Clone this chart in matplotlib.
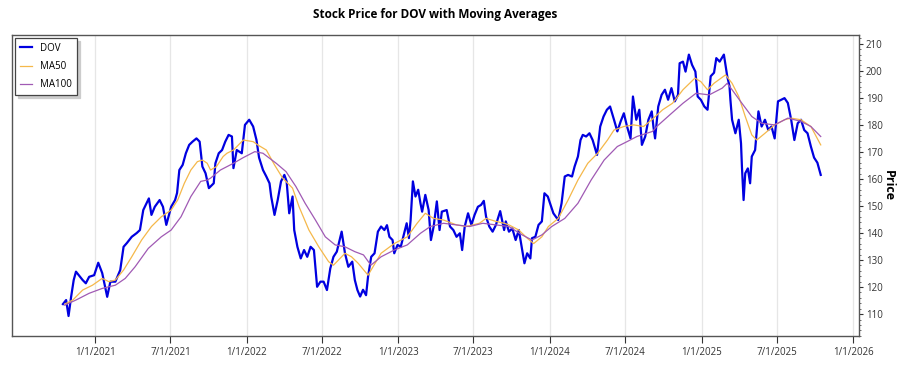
import pandas as pd
import matplotlib
matplotlib.use("Agg")
import matplotlib.pyplot as plt
from matplotlib.ticker import MultipleLocator

# time in years counted from 1/1/2021
price_t = [
    -0.214, -0.193, -0.177, -0.160, -0.143, -0.128, -0.084, -0.063, -0.041, -0.008,
    0.019, 0.045, 0.078, 0.099, 0.132, 0.164, 0.186, 0.208, 0.240, 0.273,
    0.294, 0.316, 0.353, 0.370, 0.392, 0.424, 0.446, 0.468, 0.500, 0.526,
    0.539, 0.554, 0.576, 0.597, 0.619, 0.641, 0.667, 0.688, 0.706, 0.727,
    0.749, 0.781, 0.792, 0.814, 0.836, 0.857, 0.879, 0.901, 0.911, 0.933,
    0.966, 0.987, 1.015, 1.041, 1.063, 1.080, 1.106, 1.128, 1.149, 1.160,
    1.182, 1.203, 1.225, 1.247, 1.262, 1.279, 1.301, 1.312, 1.333, 1.355,
    1.377, 1.398, 1.420, 1.442, 1.463, 1.485, 1.506, 1.528, 1.550, 1.571,
    1.593, 1.625, 1.647, 1.669, 1.695, 1.712, 1.729, 1.747, 1.766, 1.786,
    1.799, 1.820, 1.842, 1.864, 1.885, 1.907, 1.924, 1.940, 1.961, 1.972,
    1.994, 2.015, 2.037, 2.054, 2.069, 2.080, 2.095, 2.112, 2.130, 2.145,
    2.156, 2.177, 2.199, 2.214, 2.232, 2.253, 2.271, 2.286, 2.318, 2.340,
    2.362, 2.383, 2.405, 2.420, 2.437, 2.459, 2.481, 2.502, 2.524, 2.545,
    2.563, 2.578, 2.599, 2.621, 2.643, 2.671, 2.697, 2.708, 2.729, 2.751,
    2.773, 2.794, 2.816, 2.831, 2.849, 2.870, 2.881, 2.903, 2.924, 2.946,
    2.963, 2.985, 3.000, 3.022, 3.054, 3.076, 3.097, 3.119, 3.145, 3.162,
    3.184, 3.201, 3.216, 3.238, 3.260, 3.281, 3.310, 3.331, 3.353, 3.375,
    3.396, 3.422, 3.444, 3.466, 3.487, 3.508, 3.531, 3.547, 3.569, 3.589,
    3.606, 3.628, 3.649, 3.671, 3.682, 3.693, 3.714, 3.736, 3.758, 3.779,
    3.801, 3.823, 3.844, 3.855, 3.877, 3.894, 3.916, 3.937, 3.959, 3.974,
    3.995, 4.018, 4.039, 4.060, 4.082, 4.097, 4.119, 4.147, 4.169, 4.184,
    4.190, 4.201, 4.223, 4.245, 4.260, 4.266, 4.277, 4.288, 4.305, 4.320,
    4.331, 4.353, 4.375, 4.396, 4.418, 4.440, 4.461, 4.482, 4.504, 4.526,
    4.547, 4.569, 4.591, 4.612, 4.634, 4.656, 4.677, 4.699, 4.721, 4.742,
    4.764, 4.786,
]
price = [
    113.7, 115.2, 109.3, 116.4, 122.6, 125.7, 122.6, 121.4, 123.8, 124.4,
    129.0, 125.2, 116.4, 122.0, 122.0, 126.3, 134.9, 136.3, 138.6, 140.0,
    141.1, 148.5, 152.8, 146.7, 149.7, 152.2, 149.7, 143.0, 149.7, 152.2,
    154.8, 163.3, 165.2, 169.5, 172.6, 173.8, 175.0, 173.8, 164.6, 162.1,
    156.6, 158.4, 165.8, 169.5, 170.7, 173.8, 176.3, 175.7, 164.0, 170.7,
    169.5, 180.0, 181.9, 179.4, 174.4, 167.9, 163.3, 160.9, 158.4, 153.5,
    146.7, 152.2, 159.1, 161.5, 159.1, 147.3, 153.5, 141.1, 134.9, 130.6,
    133.7, 131.2, 134.9, 133.7, 120.1, 122.0, 122.0, 118.9, 126.9, 131.2,
    133.1, 140.5, 132.5, 127.5, 129.4, 122.6, 118.9, 116.5, 119.0, 117.0,
    123.8, 131.2, 132.5, 140.5, 142.4, 141.1, 142.9, 138.6, 137.4, 132.5,
    135.6, 134.9, 139.9, 143.6, 138.1, 144.8, 159.1, 153.5, 156.0, 151.0,
    147.9, 154.1, 148.5, 137.4, 142.4, 151.7, 141.1, 147.9, 148.5, 142.4,
    141.1, 138.6, 139.9, 133.7, 142.4, 147.3, 143.0, 146.7, 149.7, 150.4,
    151.9, 146.0, 142.4, 140.5, 143.0, 148.1, 141.1, 144.3, 140.5, 141.7,
    137.4, 141.1, 133.7, 128.8, 132.5, 130.6, 138.1, 138.6, 143.0, 144.3,
    154.7, 153.5, 151.0, 147.3, 144.8, 151.0, 160.9, 161.5, 160.9, 164.6,
    168.3, 174.4, 176.3, 175.7, 176.9, 174.4, 168.9, 179.4, 183.1, 185.6,
    186.8, 181.9, 177.6, 181.3, 184.3, 179.4, 175.0, 190.5, 181.9, 185.6,
    172.6, 175.7, 181.9, 185.0, 179.4, 175.0, 186.8, 191.1, 193.0, 189.3,
    193.6, 188.7, 191.1, 202.8, 203.4, 199.7, 206.0, 202.2, 199.7, 190.5,
    189.3, 186.8, 185.6, 198.0, 199.3, 204.7, 203.4, 206.0, 198.0, 194.3,
    189.3, 181.9, 176.9, 181.9, 173.2, 164.6, 152.2, 162.1, 163.9, 158.4,
    168.3, 170.7, 185.0, 179.4, 181.9, 178.1, 179.4, 175.0, 188.7, 189.3,
    189.9, 188.1, 181.9, 174.4, 180.6, 181.9, 178.1, 176.9, 172.0, 167.9,
    166.0, 161.5,
]

ma50_t = [
    -0.202, -0.149, -0.084, -0.019, 0.045, 0.089, 0.132, 0.186, 0.240, 0.305,
    0.370, 0.435, 0.500, 0.543, 0.587, 0.630, 0.673, 0.706, 0.738, 0.760,
    0.799, 0.843, 0.868, 0.911, 0.976, 1.041, 1.074, 1.128, 1.182, 1.236,
    1.301, 1.344, 1.409, 1.474, 1.539, 1.571, 1.604, 1.647, 1.690, 1.734,
    1.799, 1.885, 1.972, 2.058, 2.123, 2.177, 2.232, 2.297, 2.383, 2.448,
    2.534, 2.578, 2.643, 2.697, 2.729, 2.794, 2.849, 2.892, 2.946, 2.989,
    3.054, 3.119, 3.184, 3.249, 3.314, 3.379, 3.422, 3.487, 3.552, 3.617,
    3.671, 3.743, 3.808, 3.877, 3.956, 3.995, 4.039, 4.082, 4.158, 4.201,
    4.245, 4.288, 4.331, 4.364, 4.418, 4.482, 4.547, 4.591, 4.656, 4.721,
    4.786,
]
ma50 = [
    113.7, 115.2, 118.9, 120.7, 123.2, 122.0, 122.6, 126.3, 131.2, 137.4,
    142.4, 146.0, 148.5, 152.2, 158.4, 163.3, 166.4, 167.0, 165.8, 163.3,
    164.6, 168.3, 169.5, 170.7, 174.4, 173.8, 172.5, 170.7, 165.2, 160.3,
    156.6, 149.7, 141.1, 134.9, 129.4, 128.1, 130.0, 132.5, 131.2, 128.8,
    124.4, 132.5, 136.1, 138.6, 143.6, 147.3, 145.4, 144.8, 143.0, 142.4,
    143.6, 145.4, 144.3, 143.6, 143.0, 141.1, 138.1, 136.1, 138.6, 142.4,
    145.4, 152.2, 159.6, 165.8, 169.5, 174.4, 178.1, 179.4, 180.0, 179.4,
    181.9, 185.6, 188.0, 193.0, 197.3, 196.0, 193.0, 195.4, 198.5, 195.4,
    190.5, 183.1, 176.3, 174.4, 176.9, 180.0, 181.9, 182.5, 181.9, 179.4,
    172.6,
]

ma100_t = [
    -0.202, -0.128, -0.041, 0.045, 0.132, 0.197, 0.262, 0.349, 0.435, 0.500,
    0.565, 0.630, 0.695, 0.738, 0.760, 0.825, 0.911, 0.976, 1.052,
    1.106, 1.193, 1.258, 1.323, 1.384, 1.452, 1.517, 1.582, 1.647, 1.712,
    1.769, 1.818, 1.885, 1.972, 2.058, 2.145, 2.210, 2.297, 2.383, 2.469,
    2.556, 2.643, 2.729, 2.816, 2.881, 2.946, 3.011, 3.097, 3.184, 3.271,
    3.357, 3.444, 3.508, 3.573, 3.638, 3.677, 3.704, 3.790, 3.877, 3.963,
    4.050, 4.136, 4.169, 4.201, 4.266, 4.331, 4.396, 4.482, 4.569, 4.656,
    4.721, 4.786,
]
ma100 = [
    113.3, 115.2, 117.7, 119.5, 120.7, 123.2, 127.5, 134.3, 138.6, 141.1,
    146.0, 153.5, 159.1, 159.6, 160.3, 163.3, 165.8, 167.9, 170.1,
    169.5, 165.8, 162.7, 157.2, 151.0, 144.8, 138.6, 135.6, 134.9, 133.1,
    131.9, 128.1, 131.2, 133.7, 135.6, 139.9, 142.4, 143.6, 143.0, 142.4,
    143.6, 143.0, 142.4, 139.3, 137.4, 139.3, 142.4, 145.4, 151.0, 159.6,
    167.0, 172.0, 173.8, 175.7, 176.9, 177.6, 179.4, 183.7, 188.0, 191.7,
    191.1, 193.6, 195.4, 193.0, 188.0, 183.1, 180.6, 180.0, 182.5, 181.3,
    179.4, 175.7,
]

x_ticks = ["2021-01-01", "2021-07-01", "2022-01-01", "2022-07-01", "2023-01-01", "2023-07-01",
           "2024-01-01", "2024-07-01", "2025-01-01", "2025-07-01", "2026-01-01"]
x_labels = ["1/1/2021", "7/1/2021", "1/1/2022", "7/1/2022", "1/1/2023", "7/1/2023",
            "1/1/2024", "7/1/2024", "1/1/2025", "7/1/2025", "1/1/2026"]

start = pd.Timestamp("2021-01-01")


def to_dates(ts):
    return [start + pd.Timedelta(days=v * 365.25) for v in ts]


plt.rcParams['font.family'] = ['Open Sans', 'DejaVu Sans']

fig = plt.figure(figsize=(9, 3.75), dpi=100)
ax = fig.add_axes([0.0133, 0.104, 0.941, 0.803])

ax.plot(to_dates(price_t), price, color='#0000e0', lw=1.6, label='DOV', zorder=3)
ax.plot(to_dates(ma50_t), ma50, color='#f5b84a', lw=0.9, label='MA50', zorder=4)
ax.plot(to_dates(ma100_t), ma100, color='#a05ab4', lw=0.9, label='MA100', zorder=4)

ax.set_xlim(pd.Timestamp("2020-06-14"), pd.Timestamp("2026-01-15"))
ax.set_ylim(101.9, 213.3)

ax.set_xticks([pd.Timestamp(d) for d in x_ticks])
ax.set_xticklabels(x_labels)
ax.tick_params(axis='x', labelsize=7, length=5, pad=3, color='#333333', labelcolor='#333333')
ax.grid(axis='x', color='#e6e6e6', lw=0.9)
ax.set_axisbelow(True)

ax.yaxis.tick_right()
ax.yaxis.set_label_position('right')
ax.yaxis.set_major_locator(MultipleLocator(10))
ax.yaxis.set_minor_locator(MultipleLocator(2))
ax.tick_params(axis='y', which='major', labelsize=7, length=3, pad=2, color='#333333', labelcolor='#333333')
ax.tick_params(axis='y', which='minor', length=1.5, color='#555555')
ax.set_ylabel('Price', fontsize=9, fontweight='bold', rotation=270, labelpad=9)

for s in ax.spines.values():
    s.set_color('#555555')
    s.set_linewidth(1)

ax.set_title('Stock Price for DOV with Moving Averages', fontsize=8.5, fontweight='bold', pad=12)

leg = ax.legend(loc='upper left', fontsize=7, fancybox=False,
                shadow={'color': '#cccccc', 'alpha': 1},
                edgecolor='#444444', framealpha=1, handlelength=1.3,
                borderpad=0.5, labelspacing=0.75, borderaxespad=0.3,
                bbox_to_anchor=(0.0, 1.0))
leg.get_frame().set_linewidth(0.9)

fig.savefig('out.png', dpi=100)
